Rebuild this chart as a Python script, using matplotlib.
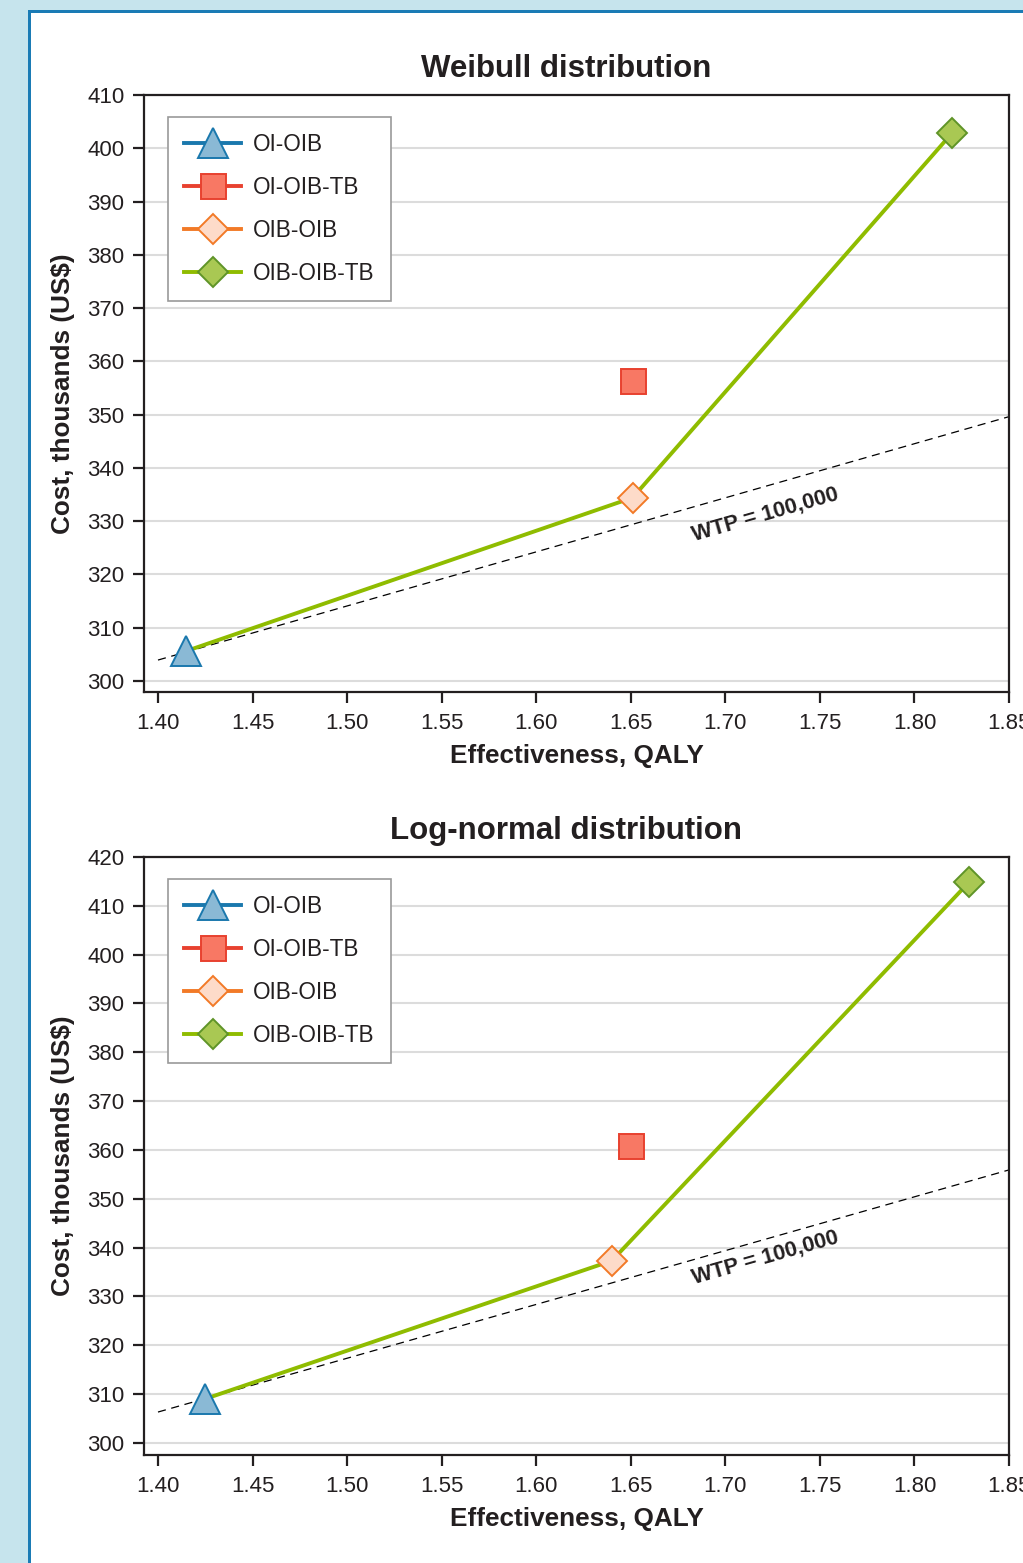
import numpy as np
import matplotlib
matplotlib.use("Agg")
import matplotlib.pyplot as plt
from matplotlib.patches import Rectangle

plt.rcParams['font.family'] = ['Liberation Sans', 'DejaVu Sans']

# ---------------- data ----------------
strategies = ["OI-OIB", "OI-OIB-TB", "OIB-OIB", "OIB-OIB-TB"]

weibull_qaly = [1.415, 1.651, 1.651, 1.820]
weibull_cost = [305.6, 356.3, 334.4, 402.9]

lognormal_qaly = [1.425, 1.650, 1.640, 1.829]
lognormal_cost = [309.0, 360.8, 337.3, 414.9]

# cost-effectiveness frontier (indices into strategies)
frontier_idx = [0, 2, 3]

# WTP = 100,000 reference lines (endpoints)
wtp_x = [1.40, 1.85]
weibull_wtp_y = [303.9, 349.6]
lognormal_wtp_y = [306.3, 355.9]

x_ticks = [1.40, 1.45, 1.50, 1.55, 1.60, 1.65, 1.70, 1.75, 1.80, 1.85]
weibull_yticks = list(range(300, 411, 10))
lognormal_yticks = list(range(300, 421, 10))

titles = ["Weibull distribution", "Log-normal distribution"]
x_label = "Effectiveness, QALY"
y_label = "Cost, thousands (US$)"
wtp_label = "WTP = 100,000"

# ---------------- style ----------------
TXT = "#231f20"
markers = ['^', 's', 'D', 'D']
msizes = [21, 18, 15.5, 15.5]
faces = ['#8ab9d5', '#f87864', '#fddbc9', '#a9c853']
edges = ['#1a78ad', '#e8412f', '#f27a27', '#5f9428']
linecols = ['#1a78ad', '#e8412f', '#f27a27', '#8fbc00']
FRONT = '#8fbc00'

W, H = 1023, 1563
fig = plt.figure(figsize=(W / 100, H / 100), dpi=100)
fig.patch.set_facecolor('white')

# frame decoration
light = '#c6e4ed'
dark = '#1a7bb5'
fig.patches.append(Rectangle((0, 0), 28 / W, 1, transform=fig.transFigure,
                             facecolor=light, edgecolor='none', zorder=0))
fig.patches.append(Rectangle((0, 1 - 10 / H), 1, 10 / H, transform=fig.transFigure,
                             facecolor=light, edgecolor='none', zorder=0))
fig.patches.append(Rectangle((28 / W, 0), 3 / W, 1 - 10 / H, transform=fig.transFigure,
                             facecolor=dark, edgecolor='none', zorder=1))
fig.patches.append(Rectangle((28 / W, 1 - 13 / H), 1 - 28 / W, 3 / H, transform=fig.transFigure,
                             facecolor=dark, edgecolor='none', zorder=1))


def px_axes(l, t, r, b):
    return [l / W, 1 - b / H, (r - l) / W, (b - t) / H]


panels = [
    dict(rect=px_axes(144, 95, 1009, 692), qaly=weibull_qaly, cost=weibull_cost,
         wtp=weibull_wtp_y, yticks=weibull_yticks, ylim=(297.9, 410),
         title=titles[0], lab=(1.7212, 331.3)),
    dict(rect=px_axes(144, 857, 1009, 1455), qaly=lognormal_qaly, cost=lognormal_cost,
         wtp=lognormal_wtp_y, yticks=lognormal_yticks, ylim=(297.5, 420),
         title=titles[1], lab=(1.7212, 337.9)),
]

for p in panels:
    ax = fig.add_axes(p['rect'])
    ax.set_xlim(1.3926, 1.85)
    ax.set_ylim(*p['ylim'])
    ax.set_axisbelow(True)
    ax.yaxis.grid(True, color='#dcdcdc', linewidth=1.5)
    ax.xaxis.grid(False)

    for s in ax.spines.values():
        s.set_color(TXT)
        s.set_linewidth(1.6)

    ax.set_xticks(x_ticks)
    ax.set_xticklabels([f"{v:.2f}" for v in x_ticks])
    ax.set_yticks(p['yticks'])
    ax.tick_params(axis='both', direction='out', length=8, width=1.6,
                   color=TXT, labelcolor=TXT, labelsize=16)
    ax.tick_params(axis='x', pad=7)
    ax.tick_params(axis='y', pad=6)

    # WTP dashed line
    ax.plot(wtp_x, p['wtp'], color='black', lw=0.9, dashes=(6.5, 4.5), zorder=2,
            clip_on=False)

    # frontier
    fx = [p['qaly'][i] for i in frontier_idx]
    fy = [p['cost'][i] for i in frontier_idx]
    ax.plot(fx, fy, color=FRONT, lw=2.8, zorder=3, solid_capstyle='butt')

    handles = []
    for i, name in enumerate(strategies):
        ax.plot([p['qaly'][i]], [p['cost'][i]], linestyle='none', marker=markers[i],
                markersize=msizes[i], markerfacecolor=faces[i],
                markeredgecolor=edges[i], markeredgewidth=1.4, zorder=4)
        h, = ax.plot([], [], color=linecols[i], lw=2.8, marker=markers[i],
                     markersize=msizes[i], markerfacecolor=faces[i],
                     markeredgecolor=edges[i], markeredgewidth=1.4)
        handles.append(h)

    leg = ax.legend(handles, strategies, loc='upper left',
                    bbox_to_anchor=(24 / 865, 1 - 22 / 597), borderaxespad=0,
                    fontsize=16.3, frameon=True, fancybox=False, framealpha=1,
                    edgecolor='#9a9a9a', handlelength=2.5, handletextpad=0.55,
                    borderpad=0.72, labelspacing=0.88)
    leg.get_frame().set_linewidth(1.2)
    for t in leg.get_texts():
        t.set_color(TXT)

    # WTP label rotated along line
    fig.canvas.draw()
    p0 = ax.transData.transform((wtp_x[0], p['wtp'][0]))
    p1 = ax.transData.transform((wtp_x[1], p['wtp'][1]))
    ang = np.degrees(np.arctan2(p1[1] - p0[1], p1[0] - p0[0]))
    ax.text(p['lab'][0], p['lab'][1], wtp_label, rotation=ang, rotation_mode='anchor',
            ha='center', va='center', fontsize=15.7, fontweight='bold', color=TXT)

    ax.set_xlabel(x_label, fontsize=18.8, fontweight='bold', color=TXT, labelpad=7)
    ax.set_ylabel(y_label, fontsize=18.8, fontweight='bold', color=TXT, labelpad=9)
    ax.text((566 - 144) / 865, 1 + 18 / 597, p['title'], transform=ax.transAxes,
            ha='center', va='baseline', fontsize=22.5, fontweight='bold', color=TXT)

fig.savefig('out.png', dpi=100, facecolor='white')
